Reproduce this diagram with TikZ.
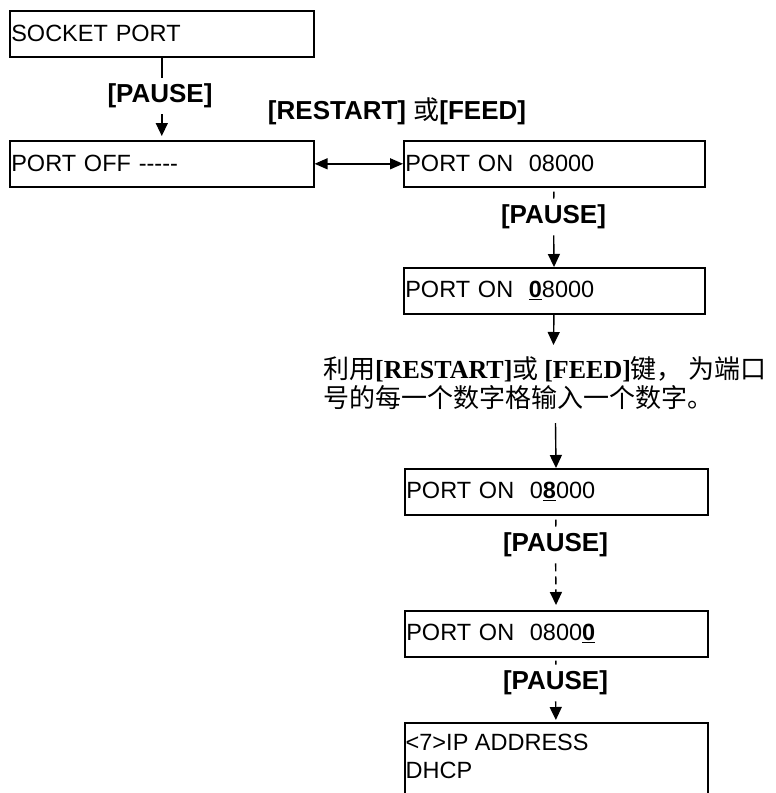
\documentclass[tikz,border=0pt]{standalone}
\usepackage{fontspec}
\setmainfont{Liberation Sans}
\newfontfamily\cjk{Noto Sans CJK SC}
\newfontfamily\tnr{Liberation Serif}
\usetikzlibrary{arrows.meta}
\begin{document}
\begin{tikzpicture}[x=1pt,y=-1pt,
  box/.style={draw, line width=1.6pt, minimum height=46pt, inner xsep=1.5pt, inner ysep=0pt,
    font=\fontsize{23.5}{28}\selectfont, align=left, anchor=north west},
  boxtext/.style={font=\fontsize{23.5}{28}\selectfont, inner sep=0pt, anchor=west},
  keylabel/.style={font=\bfseries\fontsize{26}{30}\selectfont, inner xsep=0pt, inner ysep=6pt},
  note/.style={font=\cjk\fontsize{26}{30}\selectfont, inner sep=0pt, anchor=base west,
    text height=19pt, text depth=4pt},
  conn/.style={line width=1.4pt},
  tip/.style={-{Triangle[length=13pt,width=12pt]}},
  arr/.style={conn, tip},
  dsh/.style={conn, dash pattern=on 8pt off 5pt}]
\useasboundingbox (0,0) rectangle (776,793);

% boxes
\node[box, text width=301pt] (b1) at (9,10) {SOCKET PORT};
\node[box, text width=301pt] (b2) at (9,140) {PORT OFF -{}-{}-{}-{}-};
\node[box, text width=298pt] (b3) at (403,140) {PORT ON\ \ 08000};
\node[box, text width=298pt] (b4) at (403,267) {PORT ON\ \ \underline{\textbf{0}}8000};
\node[box, text width=300pt] (b5) at (404,468) {PORT ON\ \ 0\underline{\textbf{8}}000};
\node[box, text width=300pt] (b6) at (404,610) {PORT ON\ \ 0800\underline{\textbf{0}}};
\node[draw, line width=1.6pt, anchor=north west, minimum width=303pt, minimum height=80pt, inner sep=0pt] (b7) at (404,722) {};
\node[boxtext] (t7a) at (405.5,742) {<7>IP ADDRESS};
\node[boxtext] (t7b) at (405.5,770) {DHCP};

% key labels
\node[keylabel] (p1) at (160,96) {[PAUSE]};
\node[keylabel] (rf) at (397,111) {[RESTART] {\cjk\mdseries 或}[FEED]};
\node[keylabel] (p2) at (553.5,217) {[PAUSE]};
\node[keylabel] (p3) at (555.5,545) {[PAUSE]};
\node[keylabel] (p4) at (555.5,683) {[PAUSE]};

% note
\node[note] (n1) at (323,378) {利用{\tnr\bfseries\fontsize{26}{30}\selectfont[RESTART]}或 {\tnr\bfseries\fontsize{26}{30}\selectfont[FEED]}键， 为端口};
\node[note] (n2) at (323,407) {号的每一个数字格输入一个数字。};
\coordinate (na) at (553.5,345);
\coordinate (nb) at (555.5,423);

% connectors
\draw[conn] (b1) -- (b1 |- p1.north);
\draw[arr, shorten >=4pt] (b1 |- p1.south) -- (b2);
\draw[conn, {Triangle[length=13pt,width=11pt]}-{Triangle[length=13pt,width=11pt]}] (b2) -- (b3);
\draw[conn, shorten <=4pt] (b3) -- (p2);
\draw[arr] (p2) -- (b4);
\draw[arr] (b4) -- (na);
\draw[arr] (nb) -- (b5);
\draw[dsh, shorten <=4pt] (b5) -- (p3);
\draw[dsh, tip, shorten >=5pt] (p3) -- (b6);
\draw[conn, shorten <=3pt] (b6) -- (p4);
\draw[dsh, tip, shorten >=2pt] (p4) -- (b7);
\end{tikzpicture}
\end{document}
